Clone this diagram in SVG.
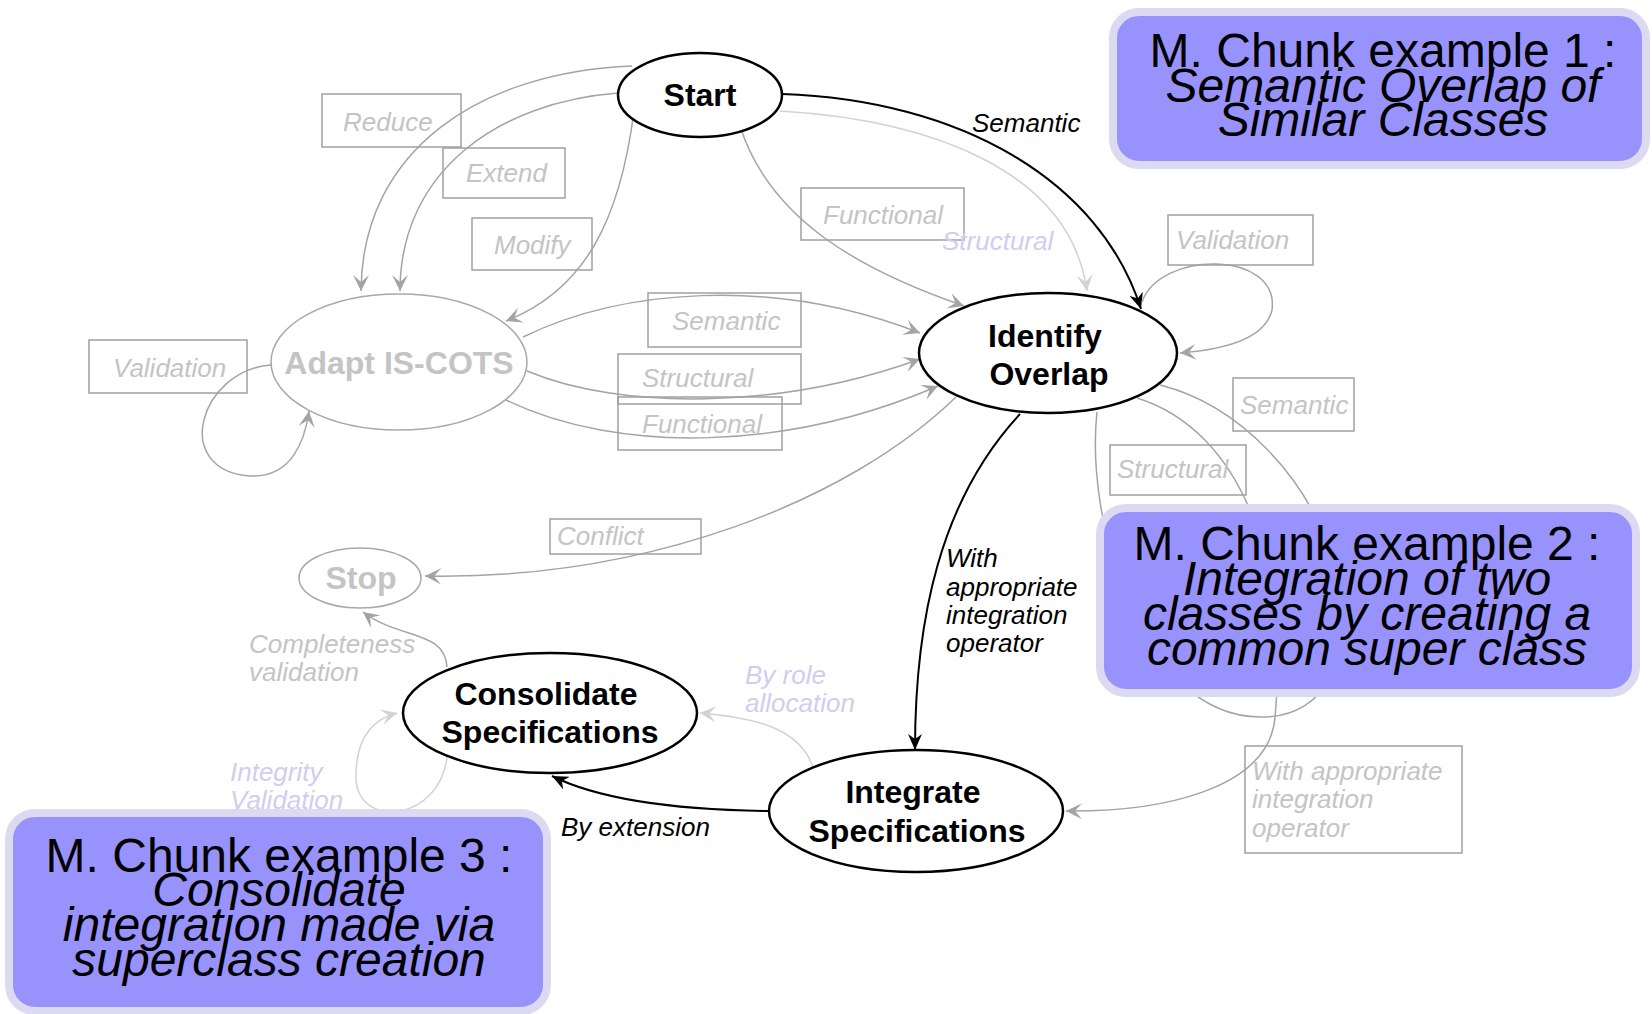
<svg xmlns="http://www.w3.org/2000/svg" width="1652" height="1014" viewBox="0 0 1652 1014">
<style>
.node{fill:#fff;stroke:#000;stroke-width:2.5}
.gnode{fill:#fff;stroke:#a8a8a8;stroke-width:1.5}
.nt{font-family:"Liberation Sans",Arial,sans-serif;font-weight:bold;font-size:32px;fill:#000;text-anchor:middle}
.gnt{font-family:"Liberation Sans",Arial,sans-serif;font-weight:bold;font-size:32px;fill:#c4c4c4;text-anchor:middle}
.lbl{font-family:"Liberation Sans",Arial,sans-serif;font-style:italic;font-size:26px;fill:#000}
.glbl{font-family:"Liberation Sans",Arial,sans-serif;font-style:italic;font-size:26px;fill:#c4c4c4}
.llbl{font-family:"Liberation Sans",Arial,sans-serif;font-style:italic;font-size:26px;fill:#cfcdf0}
.lbox{fill:none;stroke:#a0a0a0;stroke-width:1.5}
.blk{fill:none;stroke:#000;stroke-width:2}
.gry{fill:none;stroke:#a4a4a4;stroke-width:1.5}
.fnt{fill:none;stroke:#d2d2d2;stroke-width:1.5}
.chunk{fill:#9893fc;stroke:#dcdaf0;stroke-width:8}
.ct{font-family:"Liberation Sans",Arial,sans-serif;font-size:48px;fill:#000;text-anchor:middle}
.cti{font-family:"Liberation Sans",Arial,sans-serif;font-size:48px;font-style:italic;fill:#000;text-anchor:middle}
</style>
<defs>
<marker id="ab" markerUnits="userSpaceOnUse" markerWidth="18" markerHeight="14" refX="16" refY="7" orient="auto"><path d="M0,0 L16,7 L0,14 L5,7 z" fill="#000"/></marker>
<marker id="ag" markerUnits="userSpaceOnUse" markerWidth="18" markerHeight="16" refX="16" refY="8" orient="auto"><path d="M0,0 L16,8 L0,16 L7,8 z" fill="#a4a4a4"/></marker>
<marker id="af" markerUnits="userSpaceOnUse" markerWidth="18" markerHeight="16" refX="16" refY="8" orient="auto"><path d="M0,0 L16,8 L0,16 L7,8 z" fill="#d2d2d2"/></marker>
</defs>
<rect width="1652" height="1014" fill="#fff"/>

<g id="connectors">
<!-- Start -> Adapt -->
<path class="gry" d="M632 66 C480 72 362 150 361 291" marker-end="url(#ag)"/>
<path class="gry" d="M618 93 C500 102 400 170 400 291" marker-end="url(#ag)"/>
<path class="gry" d="M634 111 C620 220 585 290 506 321" marker-end="url(#ag)"/>
<!-- Start -> Identify -->
<path class="gry" d="M740 126 C770 220 860 270 964 306" marker-end="url(#ag)"/>
<path class="fnt" d="M780 111 C930 120 1070 170 1087 291" marker-end="url(#af)"/>
<path class="blk" d="M782 94 C960 100 1100 180 1141 309" marker-end="url(#ab)"/>
<!-- Adapt -> Identify -->
<path class="gry" d="M523 337 C620 290 770 275 920 333" marker-end="url(#ag)"/>
<path class="gry" d="M527 371 C620 410 780 410 920 359" marker-end="url(#ag)"/>
<path class="gry" d="M506 400 C620 455 790 450 938 386" marker-end="url(#ag)"/>
<!-- Adapt self loop -->
<path class="gry" d="M271 365 C200 370 170 470 250 476 C292 478 305 440 309 411" marker-end="url(#ag)"/>
<!-- Identify self loop -->
<path class="gry" d="M1142 302 C1160 250 1280 250 1272 310 C1265 340 1220 350 1180 353" marker-end="url(#ag)"/>
<!-- Identify -> Stop -->
<path class="gry" d="M956 397 C850 500 650 580 425 576" marker-end="url(#ag)"/>
<!-- Identify loops behind chunk 2 -->
<path class="gry" d="M1097 412 C1085 520 1140 716 1260 717 C1330 718 1360 650 1332 560 C1310 480 1240 405 1160 385"/>
<path class="gry" d="M1137 398 C1240 430 1290 560 1275 718 C1268 790 1160 812 1066 811" marker-end="url(#ag)"/>
<!-- Identify -> Integrate -->
<path class="blk" d="M1020 414 C940 500 915 620 915 750" marker-end="url(#ab)"/>
<!-- Integrate -> Consolidate -->
<path class="blk" d="M770 811 C680 810 600 800 552 776" marker-end="url(#ab)"/>
<path class="fnt" d="M813 767 C800 730 760 718 700 713" marker-end="url(#af)"/>
<!-- Consolidate -> Stop -->
<path class="gry" d="M447 667 C445 630 400 640 363 612" marker-end="url(#ag)"/>
<!-- Consolidate self loop -->
<path class="fnt" d="M447 757 C440 820 360 830 356 780 C355 740 370 720 397 713" marker-end="url(#af)"/>

<!-- label boxes -->
<rect class="lbox" x="322" y="94" width="139" height="53"/>
<rect class="lbox" x="443" y="148" width="122" height="50"/>
<rect class="lbox" x="472" y="218" width="120" height="52"/>
<rect class="lbox" x="801" y="188" width="163" height="52"/>
<rect class="lbox" x="648" y="293" width="153" height="54"/>
<rect class="lbox" x="618" y="354" width="183" height="50"/>
<rect class="lbox" x="618" y="397" width="164" height="53"/>
<rect class="lbox" x="89" y="340" width="158" height="53"/>
<rect class="lbox" x="1168" y="215" width="145" height="50"/>
<rect class="lbox" x="1233" y="378" width="121" height="53"/>
<rect class="lbox" x="1110" y="445" width="136" height="50"/>
<rect class="lbox" x="550" y="519" width="151" height="35"/>
<rect class="lbox" x="1245" y="746" width="217" height="107"/>

<!-- labels -->
<text class="glbl" x="343" y="131">Reduce</text>
<text class="glbl" x="466" y="182">Extend</text>
<text class="glbl" x="494" y="254">Modify</text>
<text class="glbl" x="823" y="224">Functional</text>
<text class="llbl" x="942" y="250">Structural</text>
<text class="lbl" x="972" y="132">Semantic</text>
<text class="glbl" x="672" y="330">Semantic</text>
<text class="glbl" x="642" y="387">Structural</text>
<text class="glbl" x="642" y="433">Functional</text>
<text class="glbl" x="113" y="377">Validation</text>
<text class="glbl" x="1176" y="249">Validation</text>
<text class="glbl" x="1240" y="414">Semantic</text>
<text class="glbl" x="1117" y="478">Structural</text>
<text class="glbl" x="557" y="545">Conflict</text>
<text class="lbl" x="946" y="567">With</text>
<text class="lbl" x="946" y="596">appropriate</text>
<text class="lbl" x="946" y="624">integration</text>
<text class="lbl" x="946" y="652">operator</text>
<text class="lbl" x="561" y="836">By extension</text>
<text class="glbl" x="249" y="653">Completeness</text>
<text class="glbl" x="249" y="681">validation</text>
<text class="llbl" x="745" y="684">By role</text>
<text class="llbl" x="745" y="712">allocation</text>
<text class="llbl" x="230" y="781">Integrity</text>
<text class="llbl" x="230" y="809">Validation</text>
<text class="glbl" x="1252" y="780">With appropriate</text>
<text class="glbl" x="1252" y="808">integration</text>
<text class="glbl" x="1252" y="837">operator</text>
</g>

<g id="node-start">
<ellipse class="node" cx="700" cy="95" rx="82" ry="42"/>
<text class="nt" x="700" y="106">Start</text>
</g>
<g id="node-identify">
<ellipse class="node" cx="1048" cy="353" rx="129" ry="60"/>
<text class="nt" x="1045" y="347">Identify</text>
<text class="nt" x="1049" y="385">Overlap</text>
</g>
<g id="node-adapt">
<ellipse class="gnode" cx="399" cy="362" rx="128" ry="68"/>
<text class="gnt" x="399" y="374">Adapt IS-COTS</text>
</g>
<g id="node-stop">
<ellipse class="gnode" cx="360" cy="578" rx="61" ry="30"/>
<text class="gnt" x="361" y="589">Stop</text>
</g>
<g id="node-consolidate">
<ellipse class="node" cx="550" cy="713" rx="147" ry="60"/>
<text class="nt" x="546" y="705">Consolidate</text>
<text class="nt" x="550" y="743">Specifications</text>
</g>
<g id="node-integrate">
<ellipse class="node" cx="916" cy="811" rx="147" ry="61"/>
<text class="nt" x="913" y="803">Integrate</text>
<text class="nt" x="917" y="842">Specifications</text>
</g>

<g id="chunk-1">
<rect class="chunk" x="1113" y="12" width="533" height="153" rx="26"/>
<text class="ct" x="1383" y="67">M. Chunk example 1 :</text>
<text class="cti" x="1383" y="102">Semantic Overlap of</text>
<text class="cti" x="1383" y="136">Similar Classes</text>
</g>
<g id="chunk-2">
<rect class="chunk" x="1100" y="508" width="536" height="185" rx="26"/>
<text class="ct" x="1367" y="560">M. Chunk example 2 :</text>
<text class="cti" x="1367" y="595">Integration of two</text>
<text class="cti" x="1367" y="630">classes by creating a</text>
<text class="cti" x="1367" y="665">common super class</text>
</g>
<g id="chunk-3">
<rect class="chunk" x="9" y="813" width="538" height="198" rx="26"/>
<text class="ct" x="279" y="872">M. Chunk example 3 :</text>
<text class="cti" x="279" y="906">Consolidate</text>
<text class="cti" x="279" y="941">integration made via</text>
<text class="cti" x="279" y="976">superclass creation</text>
</g>
</svg>
